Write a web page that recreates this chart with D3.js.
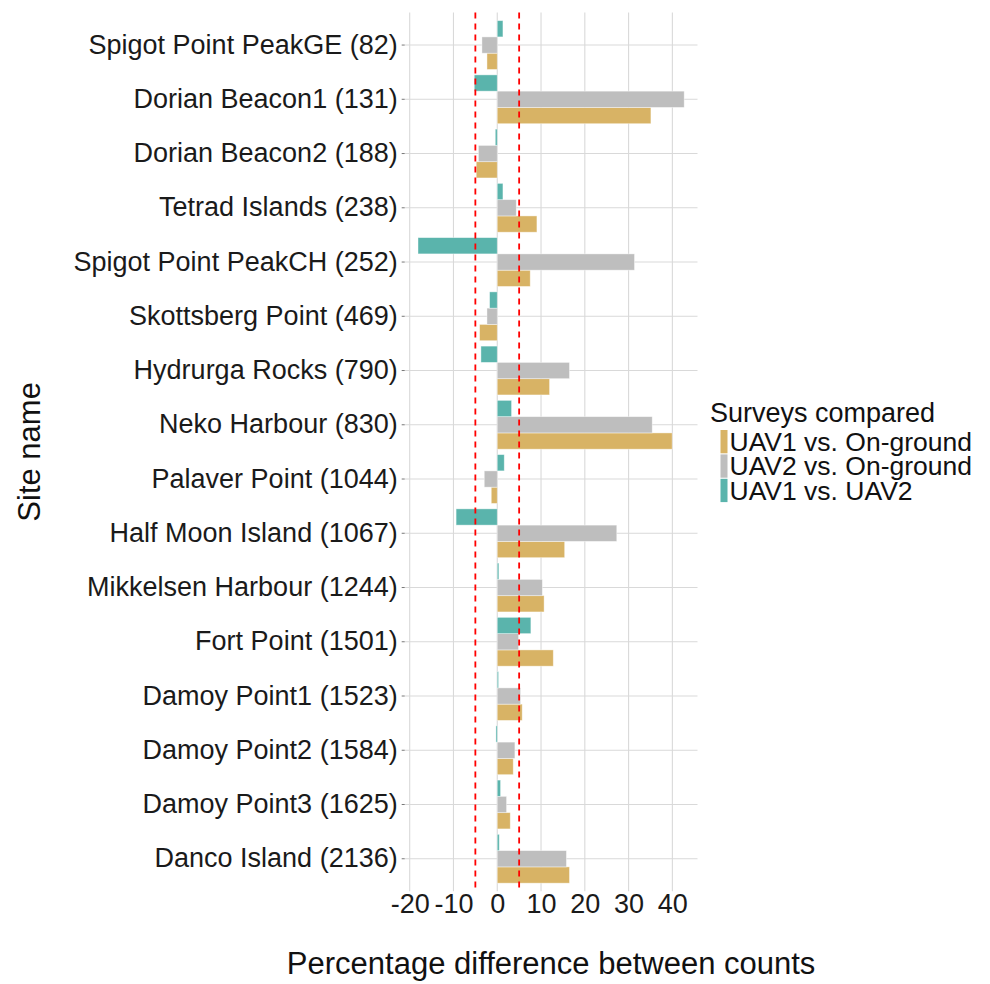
<!DOCTYPE html>
<html>
<head>
<meta charset="utf-8">
<script src="https://cdn.jsdelivr.net/npm/d3@7"></script>
<style>
  body { margin: 0; background: #fff; }
  svg { font-family: 'Liberation Sans', Arial, sans-serif; }
</style>
</head>
<body>
<svg id="chart" width="990" height="984"></svg>
<script>
const sites = [
  'Spigot Point PeakGE (82)', 'Dorian Beacon1 (131)', 'Dorian Beacon2 (188)',
  'Tetrad Islands (238)', 'Spigot Point PeakCH (252)', 'Skottsberg Point (469)',
  'Hydrurga Rocks (790)', 'Neko Harbour (830)', 'Palaver Point (1044)',
  'Half Moon Island (1067)', 'Mikkelsen Harbour (1244)', 'Fort Point (1501)',
  'Damoy Point1 (1523)', 'Damoy Point2 (1584)', 'Damoy Point3 (1625)',
  'Danco Island (2136)'
];
const uav1Ground = [-2.35, 35.1, -4.8, 9.06, 7.53, -4.03, 11.95, 39.95, -1.37, 15.4, 10.7, 12.8, 5.7, 3.65, 2.97, 16.5];
const uav2Ground = [-3.5, 42.7, -4.3, 4.34, 31.35, -2.35, 16.5, 35.4, -2.97, 27.3, 10.3, 4.87, 5.33, 4.03, 2.13, 15.8];
const uav1Uav2 = [1.3, -5.25, -0.45, 1.3, -18.1, -1.75, -3.73, 3.27, 1.6, -9.4, 0.37, 7.68, 0.3, -0.3, 0.76, 0.46];
const seriesNames = ['UAV1 vs. On-ground', 'UAV2 vs. On-ground', 'UAV1 vs. UAV2'];
const seriesColors = ['#D8B365', '#BEBEBE', '#5AB4AC'];
const xTicks = [-20, -10, 0, 10, 20, 30, 40];
const thresholds = [-5, 5];

const svg = d3.select('#chart');
const panel = { left: 404.7, right: 697.5, top: 12.5, bottom: 891.3 };

const series = [uav1Ground, uav2Ground, uav1Uav2];
const rows = [];
sites.forEach((s, i) => {
  series.forEach((vals, k) => rows.push({ site: s, key: seriesNames[k], value: vals[i] }));
});

// ggplot style 5% expansion
const lo = d3.min(rows, d => d.value);
const hi = d3.max(rows, d => d.value);
const pad = (hi - lo) * 0.05;
const x = d3.scaleLinear().domain([lo - pad, hi + pad]).range([panel.left, panel.right]);

const y = d3.scaleBand().domain(sites).range([panel.top, panel.bottom])
  .paddingInner(0.1).paddingOuter(0.15);
// within a group: UAV1 vs UAV2 on top, gold at the bottom
const yInner = d3.scaleBand().domain(seriesNames.slice().reverse()).range([0, y.bandwidth()]);
const color = d3.scaleOrdinal().domain(seriesNames).range(seriesColors);

const grid = svg.append('g').attr('class', 'grid');
grid.selectAll('.gx').data(xTicks).join('line')
  .attr('x1', d => x(d)).attr('x2', d => x(d))
  .attr('y1', panel.top).attr('y2', panel.bottom)
  .attr('stroke', '#d9d9d9').attr('stroke-width', 1.1);
grid.selectAll('.gy').data(sites).join('line')
  .attr('x1', panel.left).attr('x2', panel.right)
  .attr('y1', d => y(d) + y.bandwidth() / 2).attr('y2', d => y(d) + y.bandwidth() / 2)
  .attr('stroke', '#d9d9d9').attr('stroke-width', 1.1);

svg.append('g').selectAll('rect').data(rows).join('rect')
  .attr('x', d => x(Math.min(0, d.value)))
  .attr('width', d => Math.abs(x(d.value) - x(0)))
  .attr('y', d => y(d.site) + yInner(d.key))
  .attr('height', yInner.bandwidth())
  .attr('fill', d => color(d.key))
  .attr('stroke', '#fff').attr('stroke-opacity', 0.5).attr('stroke-width', 0.8);

svg.append('g').selectAll('line').data(thresholds).join('line')
  .attr('x1', d => x(d)).attr('x2', d => x(d))
  .attr('y1', panel.top).attr('y2', panel.bottom)
  .attr('stroke', '#ff0000').attr('stroke-width', 1.8)
  .attr('stroke-dasharray', '6,5');

// axes
const axisX = d3.axisBottom(x).tickValues(xTicks).tickSize(0).tickPadding(0)
  .tickFormat(d => String(d));
const gx = svg.append('g').attr('transform', `translate(0,${panel.bottom})`).call(axisX);
gx.select('.domain').remove();
gx.selectAll('text').attr('font-size', 27).attr('fill', '#1a1a1a')
  .attr('font-family', "'Liberation Sans', Arial, sans-serif")
  .attr('dy', null).attr('y', 22);

const axisY = d3.axisLeft(y).tickSize(3).tickPadding(4);
const gy = svg.append('g').attr('transform', `translate(${panel.left},0)`).call(axisY);
gy.select('.domain').remove();
gy.selectAll('.tick line').attr('stroke', '#555').attr('stroke-width', 0.8);
gy.selectAll('text').attr('font-size', 27).attr('fill', '#1a1a1a')
  .attr('font-family', "'Liberation Sans', Arial, sans-serif");

svg.append('text')
  .attr('x', (panel.left + panel.right) / 2).attr('y', 974)
  .attr('text-anchor', 'middle').attr('font-size', 31).attr('fill', '#111')
  .text('Percentage difference between counts');

svg.append('text')
  .attr('transform', `translate(40,${(panel.top + panel.bottom) / 2}) rotate(-90)`)
  .attr('text-anchor', 'middle').attr('font-size', 31).attr('fill', '#111')
  .text('Site name');

// legend
const legend = svg.append('g').attr('transform', 'translate(710,0)');
legend.append('text').attr('x', 0).attr('y', 421.5)
  .attr('font-size', 27).attr('fill', '#111').text('Surveys compared');
const items = legend.selectAll('.item').data(seriesNames).join('g')
  .attr('transform', (d, i) => `translate(0,${430 + i * 24.4})`);
items.append('rect').attr('x', 10.5).attr('y', 0)
  .attr('width', 7).attr('height', 23.3).attr('fill', d => color(d));
items.append('text').attr('x', 19.5).attr('y', 11.7)
  .attr('dominant-baseline', 'central')
  .attr('font-size', 26.5).attr('fill', '#111').text(d => d);
</script>
</body>
</html>
